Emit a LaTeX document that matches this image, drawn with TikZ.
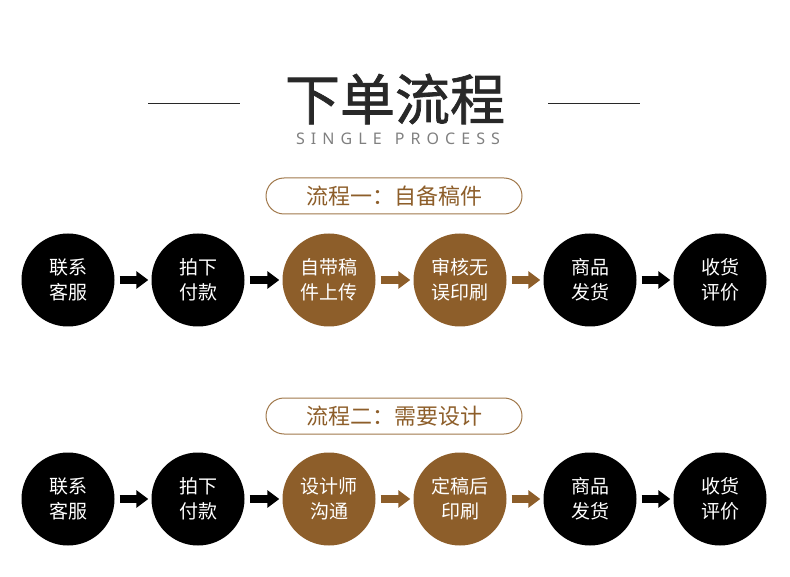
\documentclass[tikz,border=0pt]{standalone}
\usepackage{fontspec}
\setmainfont{Noto Sans CJK SC}
\newfontfamily\titlefont[FakeBold=1.3]{Noto Sans CJK SC}
\newfontfamily\latinfont[LetterSpace=38]{Noto Sans}
\usetikzlibrary{arrows.meta,positioning}
\definecolor{stepbrown}{RGB}{141,94,42}
\definecolor{tagbrown}{RGB}{160,120,75}
\definecolor{titlegray}{RGB}{40,40,40}

\begin{document}
\begin{tikzpicture}[x=1pt,y=-1pt,
		stepdot/.style={circle,fill=#1,minimum size=93pt,inner sep=0pt,text=white,
			align=center,font=\fontsize{19}{25}\selectfont},
		flowarrow/.style={#1,line width=8pt,shorten <=5pt,shorten >=3pt,
			-{Triangle[length=12pt,width=17pt]}},
		tagbox/.style={draw=tagbrown,line width=1pt,rounded corners=18pt,
			minimum width=256pt,minimum height=36pt,text=stepbrown,
			font=\fontsize{22}{22}\selectfont}]
			\useasboundingbox (0,0) rectangle (790,577);
			% title
			\node[text=titlegray,font=\titlefont\fontsize{55}{55}\selectfont] (title) at (395,99) {下单流程};
			\node[text=gray,font=\latinfont\fontsize{16}{16}\selectfont] (subtitle) at (398,139) {\mbox{SINGLE}\hspace{13pt}\mbox{PROCESS}};
			\coordinate (l1) at (148,104);
			\coordinate (l2) at (240,104);
			\coordinate (r1) at (548,104);
			\coordinate (r2) at (640,104);
			\draw[titlegray,line width=1pt] (l1) -- (l2);
			\draw[titlegray,line width=1pt] (r1) -- (r2);
			% tags
			\node[tagbox] (tag1) at (394,196) {流程一：自备稿件};
			\node[tagbox] (tag2) at (394,416) {流程二：需要设计};
			% row one
			\foreach \i/\x/\c/\t in {1/68/black/{联系\\客服},2/198/black/{拍下\\付款},
				3/329/stepbrown/{自带稿\\件上传},4/460/stepbrown/{审核无\\误印刷},
				5/590/black/{商品\\发货},6/720/black/{收货\\评价}}
				\node[stepdot=\c] (a\i) at (\x,280) {\t};
			% row two
			\foreach \i/\x/\c/\t in {1/68/black/{联系\\客服},2/198/black/{拍下\\付款},
				3/329/stepbrown/{设计师\\沟通},4/460/stepbrown/{定稿后\\印刷},
				5/590/black/{商品\\发货},6/720/black/{收货\\评价}}
				\node[stepdot=\c] (b\i) at (\x,499) {\t};
			% arrows
			\foreach \i/\j/\c in {1/2/black,2/3/black,3/4/stepbrown,4/5/stepbrown,5/6/black}{
				\draw[flowarrow=\c] (a\i) -- (a\j);
				\draw[flowarrow=\c] (b\i) -- (b\j);
			}
		\end{tikzpicture}
\end{document}
